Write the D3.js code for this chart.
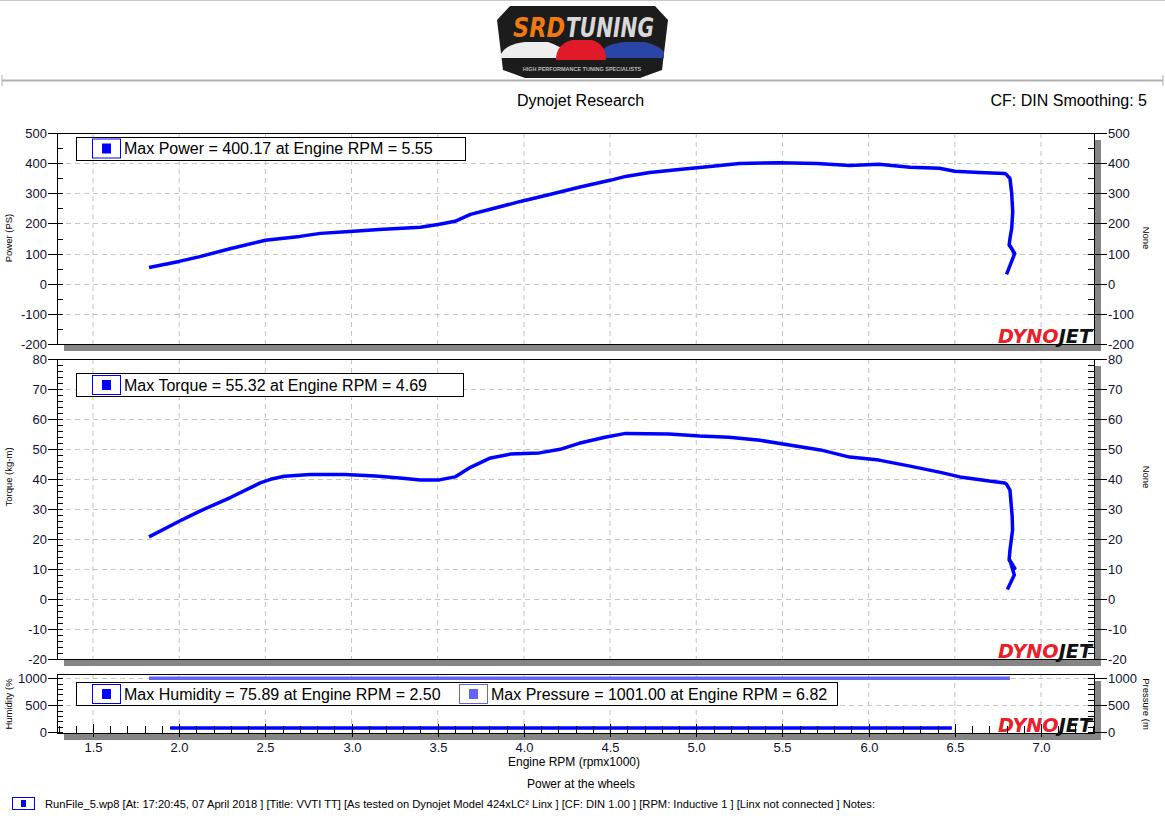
<!DOCTYPE html>
<html><head><meta charset="utf-8">
<script src="https://cdn.jsdelivr.net/npm/d3@7"></script>
<style>
body{margin:0;background:#fff;}
svg{display:block;font-family:"Liberation Sans",Arial,sans-serif;}
</style></head>
<body><svg id="c" width="1165" height="824"></svg>
<script>
// ---- data ----
const powerRpm = [1.825,2.0,2.12,2.3,2.5,2.7,2.82,2.99,3.16,3.4,3.51,3.6,3.69,3.8,3.98,4.15,4.32,4.5,4.59,4.73,4.9,5.08,5.25,5.48,5.7,5.89,6.06,6.24,6.41,6.5,6.64,6.79,6.80,6.82,6.83,6.836,6.83,6.82,6.815,6.848,6.822,6.846,6.80];
const powerVal = [54,74,90,117,144,157,167,173,180,187,197,207,230,246,273,296,320,343,356,369,379,389,399,401,399,392,396,386,383,373,369,366,362,349,300,238,183,150,128,100,125,98,31];
const torqueRpm = [1.825,2.0,2.12,2.3,2.47,2.53,2.61,2.76,2.96,3.14,3.28,3.4,3.51,3.6,3.69,3.8,3.92,4.09,4.21,4.32,4.47,4.59,4.84,5.02,5.19,5.37,5.54,5.72,5.89,6.06,6.24,6.41,6.53,6.70,6.79,6.80,6.82,6.833,6.835,6.82,6.815,6.848,6.82,6.845,6.805];
const torqueVal = [20.8,26,29.4,34,38.8,40,41,41.6,41.6,41.1,40.4,39.8,39.8,40.8,44,47,48.4,48.8,50,52,54,55.3,55.1,54.4,54,53,51.4,49.8,47.4,46.4,44.4,42.4,40.8,39.4,38.8,38.4,36.4,27.5,23.1,16.4,13.1,10.3,13,8.1,3.3];
const humidityRpm = [1.947,6.483];
const humidityVal = [75.89,75.89];
const pressureRpm = [1.825,6.82];
const pressureVal = [1001,1001];
const xTicks = [1.5,2.0,2.5,3.0,3.5,4.0,4.5,5.0,5.5,6.0,6.5,7.0];
const powerTicks = [-200,-100,0,100,200,300,400,500];
const torqueTicks = [-20,-10,0,10,20,30,40,50,60,70,80];
const humTicks = [0,500,1000];
const legendPower = "Max Power = 400.17 at Engine RPM = 5.55";
const legendTorque = "Max Torque = 55.32 at Engine RPM = 4.69";
const legendHum = "Max Humidity = 75.89 at Engine RPM = 2.50";
const legendPres = "Max Pressure = 1001.00 at Engine RPM = 6.82";
const footerText = "RunFile_5.wp8 [At: 17:20:45, 07 April 2018 ] [Title: VVTI TT] [As tested on Dynojet Model 424xLC\u00B2 Linx ] [CF: DIN 1.00 ] [RPM: Inductive 1 ] [Linx not connected ] Notes:";

// ---- layout ----
const svg = d3.select("#c");
const L = 57, R = 1094;
const x = d3.scaleLinear().domain([1.5,7.0]).range([93,1041]);
const BLUE = "#0000ff", LBLUE = "#6464f4";
const TXT = "#101030";

// header
svg.append("line").attr("x1",0).attr("x2",1165).attr("y1",0.5).attr("y2",0.5).attr("stroke","#c8c8c8");
svg.append("line").attr("x1",2).attr("x2",1163).attr("y1",80.5).attr("y2",80.5).attr("stroke","#b0b0b0").attr("stroke-width",2);
[[2,75,2,86],[1163,75,1163,86]].forEach(d=>svg.append("line").attr("x1",d[0]).attr("y1",d[1]).attr("x2",d[2]).attr("y2",d[3]).attr("stroke","#b0b0b0"));

// logo (simplified)
const lg = svg.append("g");
lg.append("path").attr("d","M510,6 L655,6 L668,20 L662,70 L640,78 L525,78 L503,70 L497,20 Z").attr("fill","#1c1c1c");
lg.append("text").attr("x",513).attr("y",37).attr("font-size",27).attr("font-weight","bold").attr("font-style","italic")
  .attr("font-family","DejaVu Sans Condensed, sans-serif").attr("fill","#f07a10")
  .attr("textLength",52).attr("lengthAdjust","spacingAndGlyphs").text("SRD");
lg.append("text").attr("x",566).attr("y",37).attr("font-size",27).attr("font-weight","bold").attr("font-style","italic")
  .attr("font-family","DejaVu Sans Condensed, sans-serif").attr("fill","#d8d8d8")
  .attr("textLength",88).attr("lengthAdjust","spacingAndGlyphs").text("TUNING");
lg.append("path").attr("d","M500,56 Q505,44 525,42 L548,42 Q560,46 566,52 L566,58 L500,58 Z").attr("fill","#eeeeee");
lg.append("path").attr("d","M600,52 Q606,44 625,42 L645,42 Q660,46 664,52 L664,58 L600,58 Z").attr("fill","#2a45a8");
lg.append("path").attr("d","M556,60 Q556,44 572,40 L592,40 Q606,44 606,60 Z").attr("fill","#e01a28");
lg.append("text").attr("x",582).attr("y",71).attr("text-anchor","middle").attr("font-size",5.5).attr("font-weight","bold")
  .attr("fill","#bbb").text("HIGH PERFORMANCE TUNING SPECIALISTS");

svg.append("text").attr("x",580.5).attr("y",106).attr("text-anchor","middle").attr("font-size",16).attr("fill","#000").text("Dynojet Research");
svg.append("text").attr("x",1147).attr("y",106).attr("text-anchor","end").attr("font-size",16).attr("fill","#000").text("CF: DIN Smoothing: 5");

function dynojet(yb){
  const t = svg.append("text").attr("x",998).attr("y",yb).attr("font-size",19).attr("font-weight","bold").attr("font-style","italic")
    .attr("font-family","DejaVu Sans, sans-serif").attr("textLength",94).attr("lengthAdjust","spacingAndGlyphs");
  t.append("tspan").attr("fill","#e8202a").text("DYNO");
  t.append("tspan").attr("fill","#111").text("JET");
}

function panel(top, bottom, y, ticks, minorStep, gridTicks, leftLabel, rightLabel, labelY){
  svg.append("rect").attr("x",L+7).attr("y",top+7).attr("width",R-L).attr("height",bottom-top).attr("fill","#858585");
  svg.append("rect").attr("x",L).attr("y",top).attr("width",R-L).attr("height",bottom-top).attr("fill","#fff");
  const g = svg.append("g");
  xTicks.forEach(v=>g.append("line").attr("x1",x(v)).attr("x2",x(v)).attr("y1",top).attr("y2",bottom)
    .attr("stroke","#c4c4c4").attr("stroke-dasharray","5,4"));
  gridTicks.forEach(v=>g.append("line").attr("x1",L).attr("x2",R).attr("y1",Math.round(y(v))+0.5).attr("y2",Math.round(y(v))+0.5)
    .attr("stroke","#c4c4c4").attr("stroke-dasharray","5,4"));
  const [d0,d1] = [ticks[0], ticks[ticks.length-1]];
  for(let v=d0; v<=d1+1e-9; v+=minorStep){
    const yy = Math.round(y(v))+0.5;
    g.append("line").attr("x1",L).attr("x2",L+6).attr("y1",yy).attr("y2",yy).attr("stroke","#000");
    g.append("line").attr("x1",R-6).attr("x2",R).attr("y1",yy).attr("y2",yy).attr("stroke","#000");
  }
  ticks.forEach(v=>{
    const yy = Math.round(y(v))+0.5;
    g.append("line").attr("x1",L-9).attr("x2",L+6).attr("y1",yy).attr("y2",yy).attr("stroke","#000");
    g.append("line").attr("x1",R-6).attr("x2",R+13).attr("y1",yy).attr("y2",yy).attr("stroke","#000");
    g.append("text").attr("x",L-10).attr("y",yy+4.5).attr("text-anchor","end").attr("font-size",13).attr("fill",TXT).text(v);
    g.append("text").attr("x",R+14).attr("y",yy+4.5).attr("text-anchor","start").attr("font-size",13).attr("fill",TXT).text(v);
  });
  svg.append("rect").attr("x",L+0.5).attr("y",top+0.5).attr("width",R-L).attr("height",bottom-top).attr("fill","none").attr("stroke","#000");
  svg.append("text").attr("transform",`translate(12,${labelY}) rotate(-90)`).attr("text-anchor","middle").attr("font-size",9.5).attr("fill","#000").text(leftLabel);
  svg.append("text").attr("transform",`translate(1143,${labelY}) rotate(90)`).attr("text-anchor","middle").attr("font-size",9.5).attr("fill","#000").text(rightLabel);
  return g;
}

function legendItem(bx, by, color, label){
  svg.append("rect").attr("x",bx+0.5).attr("y",by+0.5).attr("width",28).attr("height",19).attr("fill","#fff").attr("stroke",color);
  svg.append("rect").attr("x",bx+10).attr("y",by+5).attr("width",9).attr("height",10).attr("fill",color);
  svg.append("text").attr("x",bx+32).attr("y",by+15.5).attr("font-size",16).attr("fill","#000").text(label);
}

// Power panel
const yP = d3.scaleLinear().domain([-200,500]).range([344,133]);
panel(133,344,yP,powerTicks,50,powerTicks.slice(1,-1),"Power (PS)","None",238);
dynojet(343);
svg.append("path").datum(d3.zip(powerRpm,powerVal)).attr("fill","none").attr("stroke",BLUE).attr("stroke-width",3.5)
  .attr("stroke-linejoin","round").attr("d",d3.line().x(d=>x(d[0])).y(d=>yP(d[1])));
svg.append("rect").attr("x",76.5).attr("y",137.5).attr("width",389).attr("height",23).attr("fill","#fff").attr("stroke","#000");
legendItem(92,138.5,BLUE,legendPower);

// Torque panel
const yT = d3.scaleLinear().domain([-20,80]).range([659.3,359.3]);
panel(359,659,yT,torqueTicks,2,torqueTicks.slice(1,-1),"Torque (kg-m)","None",477);
dynojet(658);
svg.append("path").datum(d3.zip(torqueRpm,torqueVal)).attr("fill","none").attr("stroke",BLUE).attr("stroke-width",3.5)
  .attr("stroke-linejoin","round").attr("d",d3.line().x(d=>x(d[0])).y(d=>yT(d[1])));
svg.append("rect").attr("x",76.5).attr("y",373.5).attr("width",387).attr("height",23).attr("fill","#fff").attr("stroke","#000");
legendItem(92,375,BLUE,legendTorque);

// Humidity/pressure panel
const yH = d3.scaleLinear().domain([0,1000]).range([732,678.3]);
panel(674,733,yH,humTicks,100,[500,1000],"Humidity (%","Pressure (m",704);
dynojet(732);
svg.append("path").datum(d3.zip(pressureRpm,pressureVal)).attr("fill","none").attr("stroke",LBLUE).attr("stroke-width",3.5)
  .attr("d",d3.line().x(d=>x(d[0])).y(d=>yH(d[1])));
svg.append("path").datum(d3.zip(humidityRpm,humidityVal)).attr("fill","none").attr("stroke",BLUE).attr("stroke-width",3.5)
  .attr("d",d3.line().x(d=>x(d[0])).y(d=>yH(d[1])));
svg.append("rect").attr("x",76.5).attr("y",682.5).attr("width",761).attr("height",23).attr("fill","#fff").attr("stroke","#000");
legendItem(92,684,BLUE,legendHum);
legendItem(459,684,LBLUE,legendPres);

// x axis ticks
for(let v=1.3; v<=7.3+1e-9; v+=0.1){
  const xx = Math.round(x(v))+0.5;
  if(xx<L||xx>R) continue;
  svg.append("line").attr("x1",xx).attr("x2",xx).attr("y1",726).attr("y2",733).attr("stroke","#000");
}
xTicks.forEach(v=>{
  const xx = Math.round(x(v))+0.5;
  svg.append("line").attr("x1",xx).attr("x2",xx).attr("y1",724).attr("y2",737).attr("stroke","#000");
  svg.append("text").attr("x",xx).attr("y",752).attr("text-anchor","middle").attr("font-size",13).attr("fill",TXT).text(v.toFixed(1));
});
svg.append("text").attr("x",574).attr("y",766).attr("text-anchor","middle").attr("font-size",12).attr("fill","#000").text("Engine RPM (rpmx1000)");
svg.append("text").attr("x",581).attr("y",788).attr("text-anchor","middle").attr("font-size",12).attr("fill","#000").text("Power at the wheels");

// footer
svg.append("rect").attr("x",12.5).attr("y",797.5).attr("width",22).attr("height",12).attr("fill","#fff").attr("stroke",BLUE);
svg.append("rect").attr("x",21).attr("y",800).attr("width",5).attr("height",7).attr("fill",BLUE);
svg.append("text").attr("x",45).attr("y",808).attr("font-size",11).attr("fill","#000")
  .attr("textLength",830).attr("lengthAdjust","spacingAndGlyphs").text(footerText);
</script></body></html>
